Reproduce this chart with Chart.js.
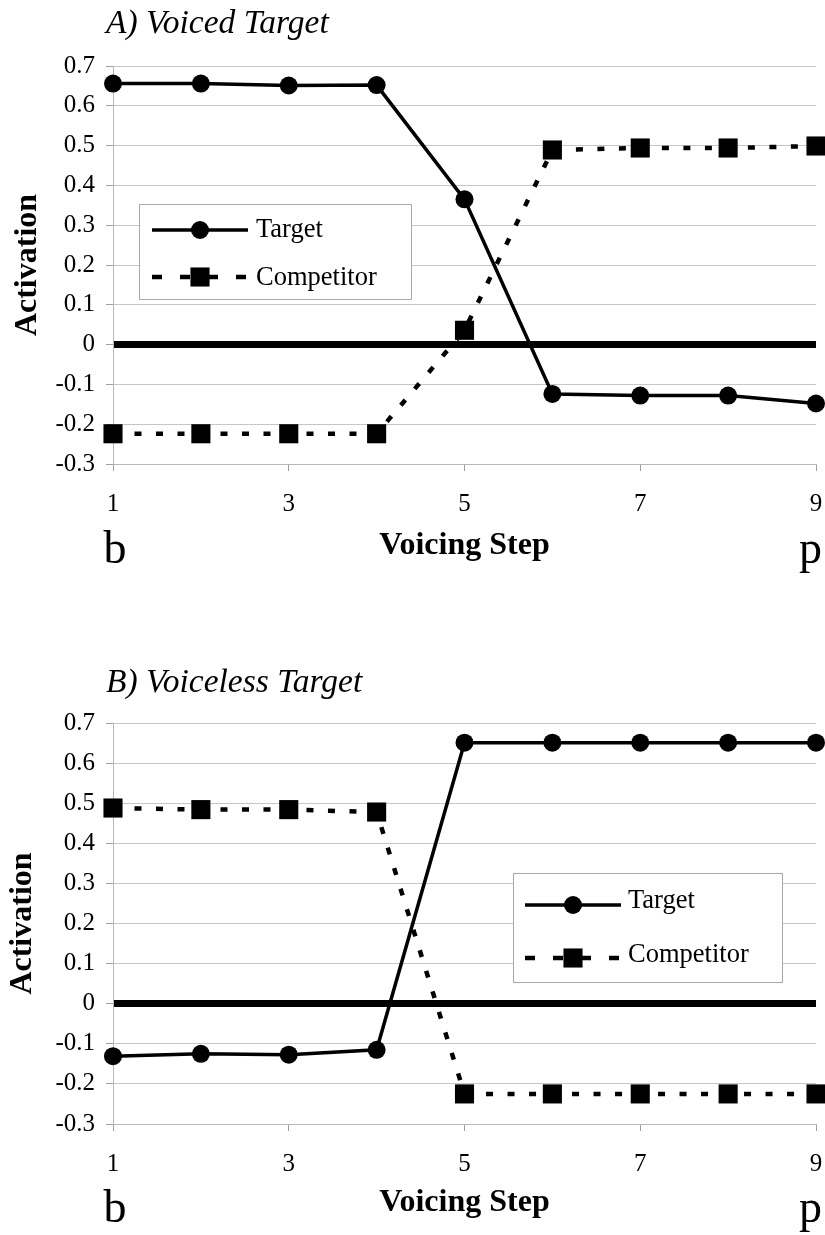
<!DOCTYPE html>
<html>
<head>
<meta charset="utf-8">
<script src="https://cdn.jsdelivr.net/npm/chart.js@4.4.1/dist/chart.umd.min.js"></script>
<style>
  html, body { margin: 0; padding: 0; background: #fff; width: 825px; height: 1235px; overflow: hidden; }
  .panel { position: absolute; left: 0; width: 825px; height: 576px; }
  #panelA { top: 0; }
  #panelB { top: 659px; }
</style>
</head>
<body>
<div id="panelA" class="panel"><canvas id="chartA"></canvas></div>
<div id="panelB" class="panel"><canvas id="chartB"></canvas></div>
<script>
// Voicing continuum steps (b ... p) and axis ticks
const voicingSteps = [1, 2, 3, 4, 5, 6, 7, 8, 9];
const stepTicks = [1, 3, 5, 7, 9];
const activationTicks = [-0.3, -0.2, -0.1, 0, 0.1, 0.2, 0.3, 0.4, 0.5, 0.6, 0.7];

// Series names and text
const seriesNames = ['Target', 'Competitor'];
const panelTitles = ['A) Voiced Target', 'B) Voiceless Target'];
const endpointLabels = ['b', 'p'];
const yAxisTitle = 'Activation';
const xAxisTitle = 'Voicing Step';

// Panel A: voiced target
const voicedTarget = [0.656, 0.656, 0.651, 0.652, 0.365, -0.124, -0.128, -0.128, -0.148];
const voicedCompetitor = [-0.224, -0.224, -0.224, -0.224, 0.036, 0.489, 0.494, 0.494, 0.499];

// Panel B: voiceless target
const voicelessTarget = [-0.131, -0.125, -0.127, -0.115, 0.651, 0.651, 0.651, 0.651, 0.651];
const voicelessCompetitor = [0.488, 0.484, 0.484, 0.478, -0.225, -0.225, -0.225, -0.225, -0.225];

const SERIF = '"Liberation Serif", "Times New Roman", serif';

// Heading, b/p endpoint letters and the boxed legend
const panelDecor = {
  id: 'panelDecor',
  afterDraw(chart, args, opts) {
    const ctx = chart.ctx;
    const xs = chart.scales.x;
    ctx.save();
    ctx.fillStyle = '#000';

    ctx.font = 'italic 33.5px ' + SERIF;
    ctx.textAlign = 'left';
    ctx.textBaseline = 'alphabetic';
    ctx.fillText(opts.heading, opts.headingX, opts.headingY);

    ctx.font = '46px ' + SERIF;
    ctx.textAlign = 'center';
    ctx.fillText(endpointLabels[0], xs.getPixelForValue(voicingSteps[0]) + 2, opts.endY);
    ctx.textAlign = 'right';
    ctx.fillText(endpointLabels[1], chart.width - 3, opts.endY);

    const L = opts.legend;
    ctx.fillStyle = '#fff';
    ctx.fillRect(L.x, L.y, L.w, L.h);
    ctx.strokeStyle = '#a8a8a8';
    ctx.lineWidth = 1;
    ctx.strokeRect(L.x + 0.5, L.y + 0.5, L.w, L.h);

    chart.data.datasets.forEach((ds, i) => {
      const y = L.rowY[i];
      const cx = (L.lineX0 + L.lineX1) / 2;
      ctx.strokeStyle = ds.borderColor;
      ctx.lineWidth = ds.borderWidth;
      ctx.setLineDash(ds.borderDash ? L.sampleDash : []);
      ctx.beginPath();
      ctx.moveTo(L.lineX0, y);
      ctx.lineTo(L.lineX1, y);
      ctx.stroke();
      ctx.setLineDash([]);
      ctx.fillStyle = ds.pointBackgroundColor;
      if (ds.pointStyle === 'rect') {
        const s = ds.pointRadius * Math.SQRT1_2;
        ctx.fillRect(cx - s, y - s, 2 * s, 2 * s);
      } else {
        ctx.beginPath();
        ctx.arc(cx, y, ds.pointRadius, 0, Math.PI * 2);
        ctx.fill();
      }
      ctx.fillStyle = '#000';
      ctx.font = '26.5px ' + SERIF;
      ctx.textAlign = 'left';
      ctx.textBaseline = 'alphabetic';
      ctx.fillText(ds.label, L.textX, L.textY[i]);
    });
    ctx.restore();
  }
};

function toPoints(values) {
  return voicingSteps.map((s, i) => ({ x: s, y: values[i] }));
}

function buildPanel(canvasId, heading, target, competitor, cfg) {
  return new Chart(document.getElementById(canvasId), {
    type: 'line',
    data: {
      datasets: [
        {
          label: seriesNames[0],
          data: toPoints(target),
          borderColor: '#000',
          backgroundColor: '#000',
          borderWidth: 3.5,
          pointStyle: 'circle',
          pointRadius: 9,
          pointBackgroundColor: '#000',
          pointBorderWidth: 0,
          tension: 0,
          clip: false
        },
        {
          label: seriesNames[1],
          data: toPoints(competitor),
          borderColor: '#000',
          backgroundColor: '#000',
          borderWidth: 4.5,
          borderDash: [7, 14.5],
          pointStyle: 'rect',
          pointRadius: 13.5,
          pointBackgroundColor: '#000',
          pointBorderWidth: 0,
          tension: 0,
          clip: false
        }
      ]
    },
    options: {
      responsive: true,
      maintainAspectRatio: false,
      animation: false,
      events: [],
      layout: { autoPadding: false, padding: { top: cfg.top, right: 9, bottom: 0, left: 0 } },
      plugins: {
        legend: { display: false },
        tooltip: { enabled: false },
        panelDecor: {
          heading: heading,
          headingX: 106,
          headingY: 33,
          endY: 563,
          legend: cfg.legend
        }
      },
      scales: {
        x: {
          type: 'linear',
          min: voicingSteps[0],
          max: voicingSteps[voicingSteps.length - 1],
          afterBuildTicks: s => { s.ticks = stepTicks.map(v => ({ value: v })); },
          afterFit: s => { s.height = cfg.xHeight; s.paddingLeft = 0; s.paddingRight = 0; },
          grid: { display: true, drawOnChartArea: false, drawTicks: true, tickLength: 7, tickColor: '#a0a0a0', tickWidth: 1 },
          border: { display: true, color: '#b8b8b8', width: 1 },
          ticks: { color: '#000', font: { family: SERIF, size: 25 }, padding: 18, maxRotation: 0, autoSkip: false },
          title: {
            display: true, text: xAxisTitle, color: '#000',
            font: { family: SERIF, size: 32, weight: 'bold', lineHeight: 1 },
            padding: { top: 0, bottom: cfg.xTitlePad }
          }
        },
        y: {
          type: 'linear',
          min: activationTicks[0],
          max: activationTicks[activationTicks.length - 1],
          afterBuildTicks: s => { s.ticks = activationTicks.map(v => ({ value: v })); },
          afterFit: s => { s.width = 113; },
          grid: {
            color: c => (c.tick && c.tick.value === 0) ? '#000' : '#c6c6c6',
            lineWidth: c => (c.tick && c.tick.value === 0) ? 7 : 1,
            drawTicks: true, tickLength: 7, tickColor: '#a0a0a0', tickWidth: 1
          },
          border: { display: true, color: '#b8b8b8', width: 1 },
          ticks: {
            color: '#000', font: { family: SERIF, size: 25 }, padding: 11,
            callback: v => String(Math.round(v * 10) / 10)
          },
          title: {
            display: true, text: yAxisTitle, color: '#000',
            font: { family: SERIF, size: 32, weight: 'bold', lineHeight: 1 },
            padding: { top: cfg.yTitlePad, bottom: 0 }
          }
        }
      }
    },
    plugins: [panelDecor]
  });
}

buildPanel('chartA', panelTitles[0], voicedTarget, voicedCompetitor, {
  top: 66, xHeight: 112, xTitlePad: 14, yTitlePad: 12,
  legend: { x: 139, y: 204, w: 272, h: 95, rowY: [230, 277], lineX0: 152, lineX1: 248,
            textX: 256, textY: [237, 285], sampleDash: [10, 18] }
});

buildPanel('chartB', panelTitles[1], voicelessTarget, voicelessCompetitor, {
  top: 64, xHeight: 111, xTitlePad: 16, yTitlePad: 6.5,
  legend: { x: 513, y: 214, w: 269, h: 109, rowY: [246, 299], lineX0: 525, lineX1: 621,
            textX: 628, textY: [249, 303], sampleDash: [10, 18] }
});
</script>
</body>
</html>
